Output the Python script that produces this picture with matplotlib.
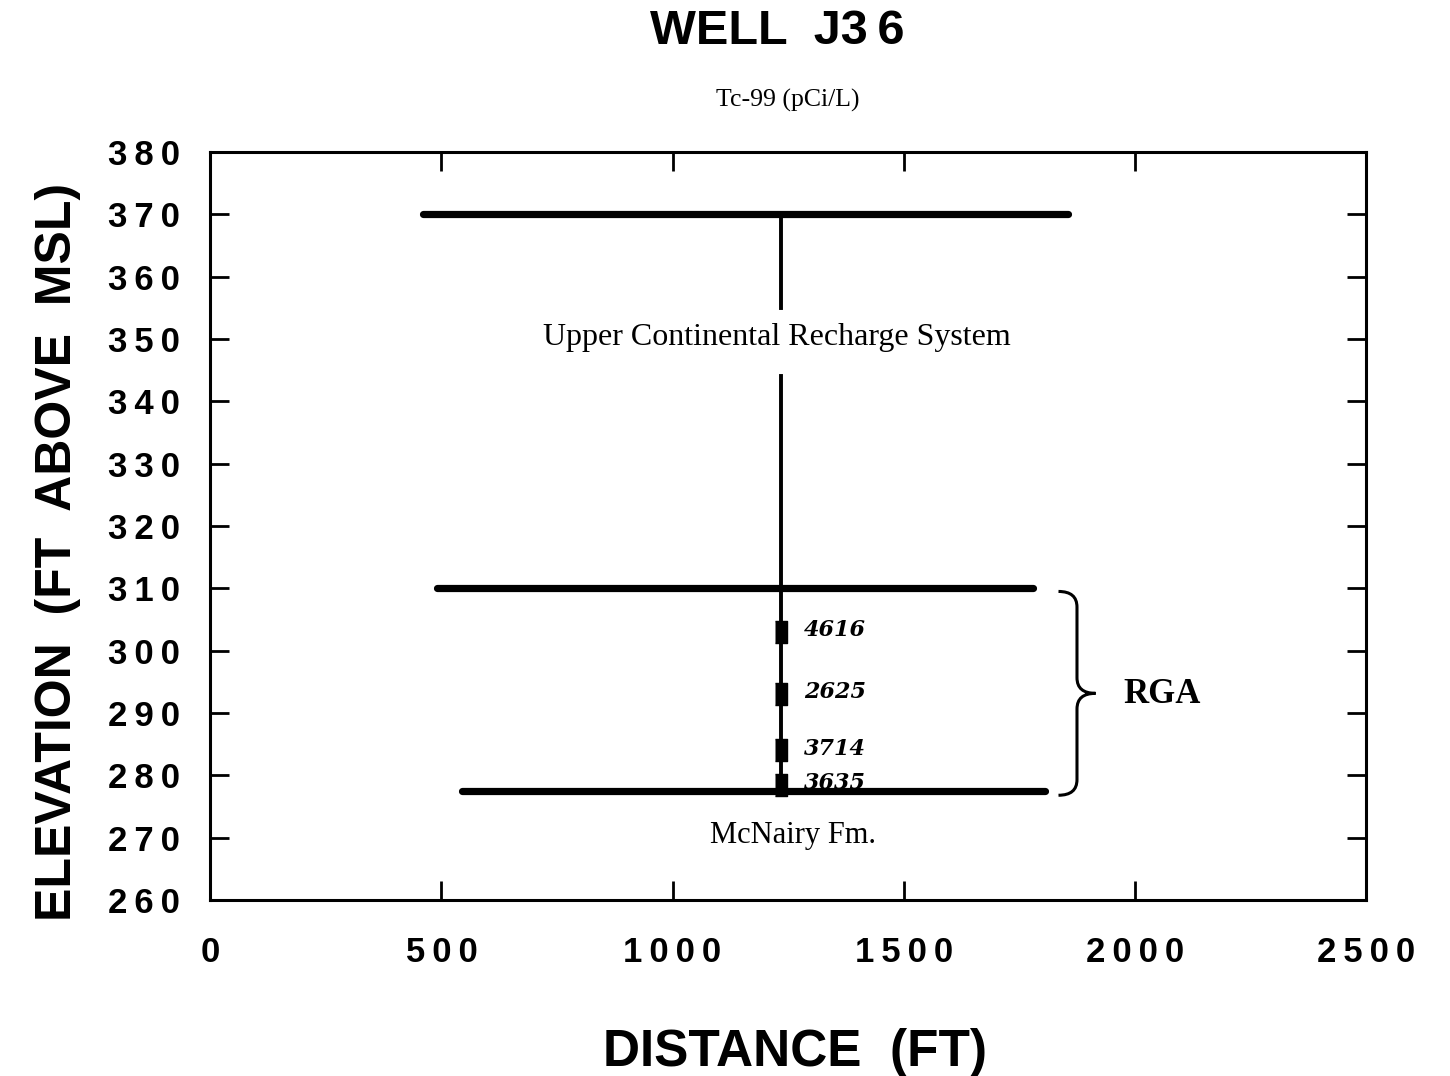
import matplotlib.pyplot as plt
import numpy as np
from matplotlib.path import Path
from matplotlib.patches import PathPatch

# stratigraphic contacts (ft above MSL) and their drawn extent (ft)
contact_elev = [370, 310, 277.5]
contact_x0 = [460, 490, 545]
contact_x1 = [1855, 1780, 1805]

# well J36
well_x = 1235
well_top = 370
well_bottom = 277.5
gap_top = 355
gap_bottom = 344

# Tc-99 samples
sample_elev = [303, 293, 284, 278.5]
tc99 = ["4616", "2625", "3714", "3635"]

xticks = [0, 500, 1000, 1500, 2000, 2500]
yticks = [260, 270, 280, 290, 300, 310, 320, 330, 340, 350, 360, 370, 380]


def spaced(v):
    return "\u2009".join(str(v))


sans = 'Liberation Sans'
serif = 'Liberation Serif'

fig = plt.figure(figsize=(14.5, 10.76), dpi=100)
ax = fig.add_axes([0.145, 0.1636, 0.797, 0.6951])

for y, a, b in zip(contact_elev, contact_x0, contact_x1):
    ax.plot([a, b], [y, y], c='k', lw=5.2, solid_capstyle='round')

ax.plot([well_x, well_x], [well_top, gap_top], c='k', lw=2.8)
ax.plot([well_x, well_x], [gap_bottom, well_bottom], c='k', lw=2.8)

ax.plot([well_x] * len(sample_elev), sample_elev, ls='none',
        marker=[(-0.5, -1), (0.5, -1), (0.5, 1), (-0.5, 1)], ms=16, c='k')
for y, t in zip(sample_elev, tc99):
    ax.text(well_x + 50, y + 0.3, t, fontsize=16, style='italic', fontweight='bold',
            family='DejaVu Serif', va='center', ha='left')

ax.text(1225, 350.3, "Upper Continental Recharge System", fontsize=23, family=serif,
        ha='center', va='center')
ax.text(1260, 270.3, "McNairy Fm.", fontsize=22, family=serif, ha='center', va='center')
ax.text(1975, 293, "RGA", fontsize=25, family=serif, fontweight='bold', ha='left', va='center')

# curly brace for RGA
bx0, bx1, bx2 = 1835, 1875, 1915
top, bot = 309.5, 276.8
mid = (top + bot) / 2
verts = [(bx0, top), (bx1, top), (bx1, top - 2.5),
         (bx1, mid + 2.5), (bx1, mid), (bx2, mid),
         (bx1, mid), (bx1, mid - 2.5),
         (bx1, bot + 2.5), (bx1, bot), (bx0, bot)]
codes = [Path.MOVETO, Path.CURVE3, Path.CURVE3,
         Path.LINETO, Path.CURVE3, Path.CURVE3,
         Path.CURVE3, Path.CURVE3,
         Path.LINETO, Path.CURVE3, Path.CURVE3]
ax.add_patch(PathPatch(Path(verts, codes), fc='none', ec='k', lw=2.2))

ax.set_xlim(0, 2500)
ax.set_ylim(260, 380)
ax.set_xticks(xticks)
ax.set_yticks(yticks)
ax.set_xticklabels([spaced(v) for v in xticks])
ax.set_yticklabels([spaced(v) for v in yticks])
ax.tick_params(direction='in', length=14, width=2, top=True, right=True, labelsize=25)
ax.tick_params(axis='x', pad=26)
ax.tick_params(axis='y', pad=22)
for lab in ax.get_xticklabels() + ax.get_yticklabels():
    lab.set_fontweight('bold')
    lab.set_family(sans)
for s in ax.spines.values():
    s.set_linewidth(2.2)

fig.text(0.548, 0.022, "DISTANCE  (FT)", fontsize=37, fontweight='bold', family=sans,
         ha='center', va='center')
fig.text(0.040, 0.487, "ELEVATION  (FT  ABOVE  MSL)", fontsize=36, fontweight='bold',
         family=sans, ha='center', va='center', rotation=90)

fig.text(0.536, 0.971, "WELL  J3\u20096", fontsize=35, fontweight='bold', family=sans,
         ha='center', va='center')
fig.text(0.5434, 0.907, "Tc-99 (pCi/L)", fontsize=18.5, family=serif, ha='center', va='center')

fig.savefig("out.png", dpi=100)
